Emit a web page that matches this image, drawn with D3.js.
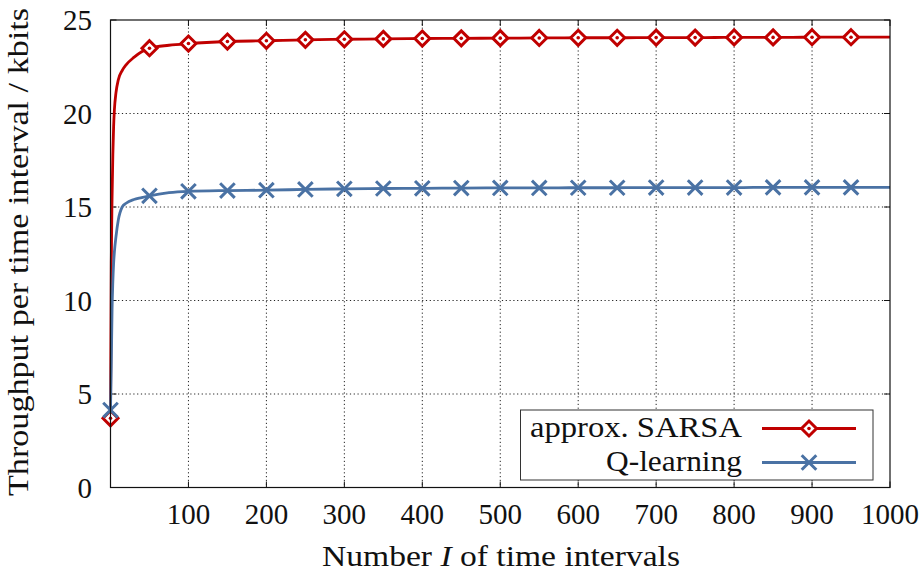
<!DOCTYPE html>
<html>
<head>
<meta charset="utf-8">
<script src="https://cdn.jsdelivr.net/npm/d3@7"></script>
<style>
  html, body { margin: 0; padding: 0; background: #fff; }
</style>
</head>
<body>
<svg id="chart" width="922" height="574" font-family="'Times New Roman', 'Liberation Serif', Tinos, 'DejaVu Serif', serif"></svg>
<script>
// Throughput per time interval over the number of time intervals
const sarsaCurveI = [0, 1, 2, 3, 4, 5, 7, 10, 15, 20, 30, 40, 50, 75, 100, 150, 200, 250, 300, 350, 400, 450, 500, 550, 600, 650, 700, 750, 800, 850, 900, 950, 1000];
const sarsaCurveV = [3.7, 12.0, 15.5, 17.8, 19.3, 20.2, 21.1, 21.8, 22.3, 22.6, 23.0, 23.3, 23.49, 23.65, 23.74, 23.85, 23.89, 23.94, 23.97, 23.99, 24.01, 24.02, 24.03, 24.04, 24.05, 24.05, 24.06, 24.06, 24.07, 24.07, 24.08, 24.08, 24.08];
const qCurveI = [0, 1, 2, 3, 4, 5, 7, 10, 15, 20, 30, 40, 50, 75, 100, 150, 200, 250, 300, 350, 400, 450, 500, 550, 600, 650, 700, 750, 800, 850, 900, 950, 1000];
const qCurveV = [4.14, 6.5, 9.5, 11.0, 12.0, 12.6, 13.4, 14.3, 15.0, 15.2, 15.4, 15.5, 15.6, 15.77, 15.84, 15.88, 15.9, 15.94, 15.97, 15.99, 16.0, 16.01, 16.02, 16.02, 16.03, 16.03, 16.04, 16.04, 16.04, 16.05, 16.05, 16.05, 16.05];
// markers every 50 intervals
const markerI = [0, 50, 100, 150, 200, 250, 300, 350, 400, 450, 500, 550, 600, 650, 700, 750, 800, 850, 900, 950];
const xTicks = [100, 200, 300, 400, 500, 600, 700, 800, 900, 1000];
const yTicks = [0, 5, 10, 15, 20, 25];
const seriesNames = ["approx. SARSA", "Q-learning"];
const seriesColors = ["#c00000", "#4a72a4"];

const svg = d3.select("#chart");
const pL = 110.5, pR = 890, pT = 20, pB = 487.5;
const x = d3.scaleLinear().domain([0, 1000]).range([pL, pR]);
const y = d3.scaleLinear().domain([0, 25]).range([pB, pT]);

// dotted grid
const grid = svg.append("g").attr("stroke", "#222").attr("stroke-width", 1).attr("stroke-dasharray", "1.2,2.6");
xTicks.filter(t => t < 1000).forEach(t => {
  grid.append("line").attr("x1", x(t)).attr("x2", x(t)).attr("y1", pT).attr("y2", pB);
});
yTicks.filter(t => t > 0 && t < 25).forEach(t => {
  grid.append("line").attr("x1", pL).attr("x2", pR).attr("y1", y(t)).attr("y2", y(t));
});

// inward tick marks on all four sides
const tk = svg.append("g").attr("stroke", "#111").attr("stroke-width", 1);
xTicks.forEach(t => {
  tk.append("line").attr("x1", x(t)).attr("x2", x(t)).attr("y1", pB).attr("y2", pB - 6);
  tk.append("line").attr("x1", x(t)).attr("x2", x(t)).attr("y1", pT).attr("y2", pT + 6);
});
yTicks.forEach(t => {
  tk.append("line").attr("x1", pL).attr("x2", pL + 6).attr("y1", y(t)).attr("y2", y(t));
  tk.append("line").attr("x1", pR).attr("x2", pR - 6).attr("y1", y(t)).attr("y2", y(t));
});

// tick labels
const tl = svg.append("g").attr("font-size", 29).attr("fill", "#111");
xTicks.forEach(t => {
  tl.append("text").attr("x", x(t)).attr("y", 524).attr("text-anchor", "middle").text(t);
});
yTicks.forEach(t => {
  tl.append("text").attr("x", 92).attr("y", y(t) + 10).attr("text-anchor", "end").text(t);
});

// axis titles
svg.append("text").attr("x", 501).attr("y", 566).attr("text-anchor", "middle").attr("font-size", 30)
  .attr("fill", "#111").attr("textLength", 358).attr("lengthAdjust", "spacingAndGlyphs")
  .html('Number <tspan font-style="italic">I</tspan> of time intervals');
svg.append("text").attr("transform", "translate(28,252) rotate(-90)")
  .attr("text-anchor", "middle").attr("font-size", 30).attr("fill", "#111")
  .attr("textLength", 488).attr("lengthAdjust", "spacingAndGlyphs")
  .text("Throughput per time interval / kbits");

const line = d3.line().x(d => x(d[0])).y(d => y(d[1])).curve(d3.curveMonotoneX);
const plot = svg.append("g");

function valueAt(Is, Vs, i) {
  return Vs[Is.indexOf(i)];
}

function diamond(g, cx, cy, color) {
  const r = 7.5;
  g.append("path").attr("d", `M${cx},${cy - r}L${cx + r},${cy}L${cx},${cy + r}L${cx - r},${cy}Z`)
    .attr("fill", "#fff").attr("stroke", color).attr("stroke-width", 3);
  g.append("circle").attr("cx", cx).attr("cy", cy).attr("r", 1.8).attr("fill", color);
}
function cross(g, cx, cy, color) {
  const r = 7.3;
  g.append("path").attr("d", `M${cx - r},${cy - r}L${cx + r},${cy + r}M${cx - r},${cy + r}L${cx + r},${cy - r}`)
    .attr("stroke", color).attr("stroke-width", 3).attr("fill", "none");
}

// SARSA series
plot.append("path").datum(sarsaCurveI.map((d, i) => [d, sarsaCurveV[i]]))
  .attr("d", line).attr("fill", "none").attr("stroke", seriesColors[0]).attr("stroke-width", 2.8);
const sm = plot.append("g");
markerI.forEach(i => diamond(sm, x(i), y(valueAt(sarsaCurveI, sarsaCurveV, i)), seriesColors[0]));

// Q-learning series
plot.append("path").datum(qCurveI.map((d, i) => [d, qCurveV[i]]))
  .attr("d", line).attr("fill", "none").attr("stroke", seriesColors[1]).attr("stroke-width", 2.8);
const qm = plot.append("g");
markerI.forEach(i => cross(qm, x(i), y(valueAt(qCurveI, qCurveV, i)), seriesColors[1]));

// frame
svg.append("rect").attr("x", pL).attr("y", pT).attr("width", pR - pL).attr("height", pB - pT)
  .attr("fill", "none").attr("stroke", "#111").attr("stroke-width", 1.2);

// legend
const lg = svg.append("g");
lg.append("rect").attr("x", 520.5).attr("y", 410).attr("width", 352.5).attr("height", 70)
  .attr("fill", "#fff").attr("stroke", "#333").attr("stroke-width", 1);
const rowsY = [428.5, 462.5];
const legendTextLen = [212, 136];
seriesNames.forEach((name, k) => {
  lg.append("text").attr("x", 742).attr("y", rowsY[k] + 8).attr("text-anchor", "end").attr("font-size", 29)
    .attr("fill", "#111").attr("textLength", legendTextLen[k]).attr("lengthAdjust", "spacingAndGlyphs").text(name);
  lg.append("line").attr("x1", 762).attr("x2", 856).attr("y1", rowsY[k]).attr("y2", rowsY[k])
    .attr("stroke", seriesColors[k]).attr("stroke-width", 2.8);
  if (k === 0) diamond(lg, 809, rowsY[k], seriesColors[k]);
  else cross(lg, 809, rowsY[k], seriesColors[k]);
});
</script>
</body>
</html>
